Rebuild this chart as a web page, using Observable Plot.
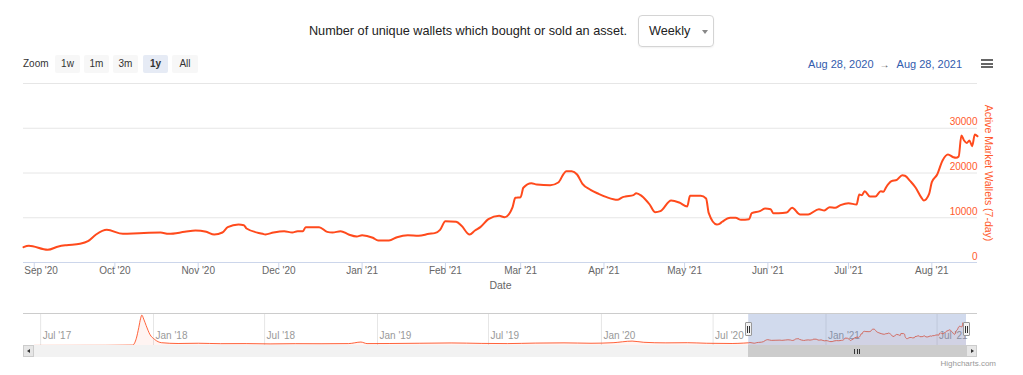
<!DOCTYPE html>
<html><head><meta charset="utf-8">
<script src="https://cdn.jsdelivr.net/npm/d3@7"></script>
<script src="https://cdn.jsdelivr.net/npm/@observablehq/plot@0.6"></script>
<style>
body{margin:0;background:#fff;font-family:"Liberation Sans",Arial,Helvetica,sans-serif;}
#wrap{position:relative;width:1023px;height:375px;overflow:hidden;background:#fff;}
.abs{position:absolute;}
.btn{position:absolute;top:55px;height:18px;line-height:18px;width:25px;text-align:center;font-size:10px;color:#333;background:#f7f7f7;border-radius:2px;}
.btn.sel{background:#e6ebf5;font-weight:bold;}
.bar{position:absolute;left:0;width:12px;height:2px;background:#666;}
svg{position:absolute;}
</style></head><body>
<div id="wrap">
  <div class="abs" id="title" style="right:396px;top:23px;line-height:16px;font-size:12.7px;color:#222;white-space:nowrap"></div>
  <div class="abs" style="left:638px;top:15px;width:74px;height:30px;border:1px solid #d4d4d4;border-radius:4px;box-shadow:0 1px 2px rgba(0,0,0,0.06)">
    <span id="period" style="position:absolute;left:10px;top:8px;font-size:12.7px;line-height:15px;color:#222"></span>
    <span style="position:absolute;left:63px;top:14px;width:0;height:0;border-left:3.5px solid transparent;border-right:3.5px solid transparent;border-top:4px solid #888"></span>
  </div>
  <div class="abs" id="zoomlbl" style="left:23px;top:55px;line-height:18px;font-size:10px;color:#333"></div>
  <div id="buttons"></div>
  <div class="abs" id="range" style="right:61px;top:57px;line-height:14px;font-size:11px;color:#335cad;white-space:nowrap"></div>
  <div class="abs" style="left:981px;top:59px;width:12px;height:10px">
    <div class="bar" style="top:0"></div><div class="bar" style="top:3.5px"></div><div class="bar" style="top:7px"></div>
  </div>
  <div id="main" class="abs" style="left:0;top:75px;width:1023px;height:225px"></div>
  <div id="navwrap" class="abs" style="left:0;top:300px;width:1023px;height:75px"></div>
  <div class="abs" id="credit" style="right:27px;top:359px;font-size:8px;line-height:10px;color:#999"></div>
</div>
<script>
// ---------- texts ----------
const titleText = "Number of unique wallets which bought or sold an asset.";
const periodText = "Weekly";
const zoomLabel = "Zoom";
const zoomButtons = ["1w", "1m", "3m", "1y", "All"];
const selectedButton = "1y";
const rangeFromText = "Aug 28, 2020";
const rangeToText = "Aug 28, 2021";
const yTitle = "Active Market Wallets (7-day)";
const xTitle = "Date";
const creditText = "Highcharts.com";

// ---------- main series (Active Market Wallets, 7-day) ----------
const dates = [
  "2020-08-28","2020-08-30","2020-09-06","2020-09-10","2020-09-13","2020-09-18","2020-09-21","2020-09-24","2020-09-28",
  "2020-10-04","2020-10-10","2020-10-18","2020-10-21","2020-10-27","2020-10-31",
  "2020-11-04","2020-11-07","2020-11-10","2020-11-12","2020-11-16","2020-11-18","2020-11-19","2020-11-25","2020-11-26","2020-11-29",
  "2020-12-03","2020-12-06","2020-12-08","2020-12-10","2020-12-11","2020-12-16","2020-12-19","2020-12-21","2020-12-24","2020-12-27","2020-12-30",
  "2021-01-01","2021-01-05","2021-01-07","2021-01-11","2021-01-14","2021-01-18","2021-01-22","2021-01-26","2021-01-28","2021-01-30",
  "2021-02-01","2021-02-05","2021-02-07","2021-02-10","2021-02-12","2021-02-14","2021-02-17","2021-02-21","2021-02-23","2021-02-26","2021-02-27",
  "2021-03-01","2021-03-02","2021-03-05","2021-03-07","2021-03-12","2021-03-15","2021-03-17","2021-03-18","2021-03-20","2021-03-22","2021-03-24","2021-03-27","2021-03-30",
  "2021-04-02","2021-04-06","2021-04-08","2021-04-09","2021-04-12","2021-04-13","2021-04-15","2021-04-18","2021-04-20","2021-04-22","2021-04-26","2021-04-29",
  "2021-05-02","2021-05-03","2021-05-07","2021-05-09","2021-05-10","2021-05-13","2021-05-14","2021-05-15","2021-05-18","2021-05-20","2021-05-22","2021-05-25","2021-05-26","2021-05-29","2021-05-31",
  "2021-06-02","2021-06-03","2021-06-05","2021-06-08","2021-06-10","2021-06-13","2021-06-16","2021-06-20","2021-06-22","2021-06-24","2021-06-26","2021-06-28",
  "2021-07-01","2021-07-04","2021-07-05","2021-07-06","2021-07-07","2021-07-09","2021-07-11","2021-07-13","2021-07-14","2021-07-15","2021-07-17","2021-07-19","2021-07-21","2021-07-22","2021-07-24","2021-07-26","2021-07-28","2021-07-29","2021-07-31",
  "2021-08-01","2021-08-03","2021-08-05","2021-08-07","2021-08-09","2021-08-10","2021-08-11","2021-08-12","2021-08-13","2021-08-14","2021-08-15","2021-08-16","2021-08-17","2021-08-18"
];
const values = [
  3420,3730,2840,3580,3870,4180,4770,6260,7300,
  6410,6560,6700,6410,6850,7150,
  6850,6260,6700,7900,8490,8340,7600,6410,6260,6700,
  7000,6700,7000,7000,7900,7900,6850,6700,7000,6260,5810,
  6100,5520,4920,4920,5660,6100,5960,6410,6560,7300,
  9230,9100,8200,6260,7150,7900,9680,10440,10120,12400,14460,
  14600,16700,17720,17430,17280,17880,19820,20400,20400,19670,17590,16250,15350,
  14600,14010,14600,14750,15050,15500,14900,12960,11240,11470,13860,13410,
  12520,14900,14900,14300,11020,8490,8650,9100,9990,9990,9540,9680,11020,11470,12070,
  11920,11020,11020,11180,12230,10730,10730,11920,11620,12360,12230,12810,
  13250,12960,15200,15050,15940,14750,14750,15940,15800,16830,18170,18480,19510,19380,18170,16700,14600,13860,15350,
  17950,19670,22800,24140,23530,23400,23690,28400,27270,26700,27270,26000,28600,28200
];

// ---------- navigator history before the selected range ----------
const navDates = [
  "2017-06-21","2017-08-15","2017-10-15","2017-11-28","2017-12-04","2017-12-08","2017-12-11","2017-12-13","2017-12-16","2017-12-20","2017-12-26",
  "2018-01-03","2018-01-14","2018-02-10","2018-03-15","2018-04-20","2018-06-01","2018-07-10","2018-08-20","2018-10-01","2018-11-15","2018-12-05","2018-12-15",
  "2019-01-20","2019-03-10","2019-05-01","2019-06-20","2019-08-01","2019-09-15","2019-11-01","2019-12-15",
  "2020-01-20","2020-02-20","2020-03-10","2020-04-15","2020-05-20","2020-06-20","2020-08-01","2020-08-20"
];
const navValues = [
  100,150,200,500,9000,22600,34000,38000,33000,24900,14000,
  7500,3500,2500,2800,2300,2400,2000,2300,2200,2400,4300,2400,
  2500,2800,3200,2600,2400,3000,3300,2800,
  3500,5500,4000,3300,3500,2800,2500,3000
];

// ---------- ticks ----------
const monthTicks = ["2020-09-01","2020-10-01","2020-11-01","2020-12-01","2021-01-01","2021-02-01","2021-03-01","2021-04-01","2021-05-01","2021-06-01","2021-07-01","2021-08-01"];
const yTicks = [0, 10000, 20000, 30000];
const gridTicks = [10000, 20000, 30000, 40000];
const navTicks = ["2017-07-01","2018-01-01","2018-07-01","2019-01-01","2019-07-01","2020-01-01","2020-07-01","2021-01-01","2021-07-01"];
const rangeStart = "2020-08-28";
const rangeEnd = "2021-08-18";
const navStart = "2017-06-21";

// ---------- build ----------
const parse = d3.utcParse("%Y-%m-%d");
const fmt = d3.utcFormat("%b '%y");
const C = "#ff4a1c";
const C2 = "#ff5a2c";
const FONT = '"Liberation Sans", Arial, Helvetica, sans-serif';

document.getElementById("title").textContent = titleText;
document.getElementById("period").textContent = periodText;
document.getElementById("zoomlbl").textContent = zoomLabel;
document.getElementById("credit").textContent = creditText;
const btnLeft = [55, 84, 113, 143, 172];
const bwrap = document.getElementById("buttons");
zoomButtons.forEach((b, i) => {
  const el = document.createElement("div");
  el.className = "btn" + (b === selectedButton ? " sel" : "");
  el.style.left = btnLeft[i] + "px";
  if (b === "All") el.style.width = "26px";
  el.textContent = b;
  bwrap.appendChild(el);
});
const rg = document.getElementById("range");
rg.innerHTML = "";
const s1 = document.createElement("span"); s1.textContent = rangeFromText;
const s2 = document.createElement("span"); s2.textContent = "→"; s2.style.cssText = "color:#555;margin:0 7px 0 6px;font-size:10px";
const s3 = document.createElement("span"); s3.textContent = rangeToText;
rg.append(s1, s2, s3);

const main = dates.map((d, i) => ({date: parse(d), value: values[i]}));
const nav = navDates.map((d, i) => ({date: parse(d), value: navValues[i]})).concat(main);
const xDomain = [parse(rangeStart), parse(rangeEnd)];
const mt = monthTicks.map(parse);

const chart = Plot.plot({
  width: 1023, height: 225,
  marginLeft: 23, marginRight: 46, marginTop: 8, marginBottom: 38,
  style: {fontFamily: FONT, fontSize: "10px", color: "#666", background: "transparent", overflow: "visible"},
  x: {type: "utc", domain: xDomain},
  y: {domain: [0, 40000], axis: null},
  marks: [
    Plot.gridY(gridTicks, {stroke: "#e6e6e6", strokeOpacity: 1}),
    Plot.ruleY([0], {stroke: "#ccd6eb"}),
    Plot.axisX(mt, {tickSize: 7, stroke: "#ccd6eb", fill: "none", label: null}),
    Plot.text(mt.slice(1), {x: d => d, text: d => fmt(d), frameAnchor: "bottom", dy: 11, fill: "#666"}),
    Plot.text(mt.slice(0, 1), {x: d => d, text: d => fmt(d), frameAnchor: "bottom", dy: 11, dx: -10, textAnchor: "start", fill: "#666"}),
    Plot.text([xTitle], {text: d => d, frameAnchor: "bottom", dy: 26, fill: "#666", fontSize: 10.5}),
    Plot.text(yTicks, {y: d => d, text: d => String(d), frameAnchor: "right", textAnchor: "end", dy: -6, fill: C2}),
    Plot.text([yTitle], {text: d => d, frameAnchor: "right", textAnchor: "middle", rotate: 90, dx: 11, fill: C2, fontSize: 10.5}),
    Plot.lineY(main, {x: "date", y: "value", stroke: C, strokeWidth: 2, curve: "monotone-x"})
  ]
});
document.getElementById("main").appendChild(chart);

const sel = {a: xDomain[0], b: xDomain[1]};
const navChart = Plot.plot({
  width: 1023, height: 75,
  marginLeft: 34, marginRight: 57, marginTop: 13, marginBottom: 30,
  style: {fontFamily: FONT, fontSize: "10px", color: "#999", background: "transparent", overflow: "visible"},
  x: {type: "utc", domain: [parse(navStart), xDomain[1]], axis: null},
  y: {domain: [0, 40000], axis: null},
  marks: [
    Plot.ruleX(navTicks.map(parse), {x: d => d, stroke: "#e6e6e6"}),
    Plot.text(navTicks.map(parse), {x: d => d, text: d => fmt(d), frameAnchor: "bottom", textAnchor: "start", dx: 2, dy: -7, fill: "#999"}),
    Plot.areaY(nav, {x: "date", y: "value", fill: C, fillOpacity: 0.06, curve: "monotone-x"}),
    Plot.lineY(nav, {x: "date", y: "value", stroke: C, strokeWidth: 1, strokeOpacity: 0.85, curve: "monotone-x"}),
    Plot.rect([sel], {x1: "a", x2: "b", fill: "#6685c2", fillOpacity: 0.3})
  ]
});
const nw = document.getElementById("navwrap");
nw.appendChild(navChart);

// chrome of the navigator (outline, scrollbar, handles) positioned from the scale
const sx = navChart.scale("x");
const xa = sx.apply(sel.a), xb = sx.apply(sel.b);
function box(css) { const d = document.createElement("div"); d.style.cssText = "position:absolute;box-sizing:border-box;" + css; nw.appendChild(d); return d; }
box("left:23px;top:13px;width:954px;height:1px;background:#cccccc;");
box("left:23px;top:45px;width:954px;height:12px;background:#f2f2f2;");
box(`left:${xa}px;top:45px;width:${xb - xa}px;height:12px;background:#cccccc;`);
const gx = (xa + xb) / 2;
[-2.5, 0, 2.5].forEach(o => box(`left:${gx + o - 0.5}px;top:48.5px;width:1px;height:5px;background:#333;`));
box("left:23px;top:45px;width:11px;height:12px;background:#e6e6e6;border:1px solid #cccccc;");
box("left:966px;top:45px;width:11px;height:12px;background:#e6e6e6;border:1px solid #cccccc;");
box("left:26.5px;top:49px;width:0;height:0;border-top:2px solid transparent;border-bottom:2px solid transparent;border-right:3px solid #333;");
box("left:970.5px;top:49px;width:0;height:0;border-top:2px solid transparent;border-bottom:2px solid transparent;border-left:3px solid #333;");
[xa, xb].forEach(x => {
  box(`left:${x - 3.5}px;top:22px;width:7px;height:14px;background:#f2f2f2;border:1px solid #999;border-radius:1px;`);
  box(`left:${x - 1.5}px;top:25.5px;width:1px;height:7px;background:#333;`);
  box(`left:${x + 0.5}px;top:25.5px;width:1px;height:7px;background:#333;`);
});
</script>
</body></html>
